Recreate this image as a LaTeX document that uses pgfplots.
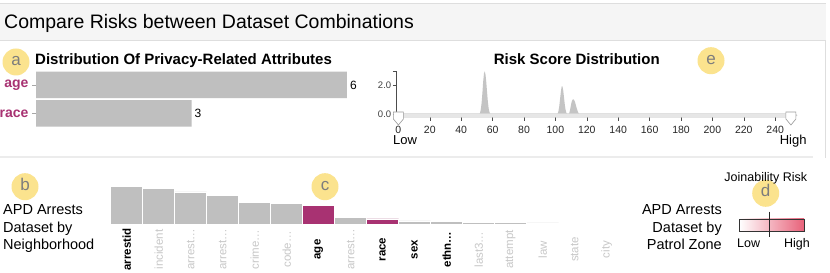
\documentclass[border=0pt]{standalone}
\usepackage{pgfplots}
\pgfplotsset{compat=1.18}
\usepackage{fontspec}
\setmainfont{Liberation Sans}
\definecolor{barg}{RGB}{191,191,191}
\definecolor{areag}{RGB}{196,196,196}
\definecolor{mag}{RGB}{168,50,114}
\definecolor{circ}{RGB}{251,227,142}
\definecolor{circt}{RGB}{125,125,125}
\definecolor{lblg}{RGB}{200,200,200}
\definecolor{pinkc}{RGB}{232,98,122}
\definecolor{hdr}{RGB}{245,245,245}
\definecolor{hdrline}{RGB}{222,222,222}
\definecolor{sepc}{RGB}{236,236,236}
\definecolor{trackc}{RGB}{230,230,230}
\definecolor{trackb}{RGB}{200,200,200}
\newcommand{\fs}[1]{\fontsize{#1}{#1}\selectfont}
\pgfplotsset{/pgf/number format/assume math mode=true}
\begin{document}
\begin{tikzpicture}[x=1pt,y=1pt]
\useasboundingbox (0,0) rectangle (830,273);
\fill[white] (0,0) rectangle (830,273);
\coordinate (pa) at (36,145.25);
\coordinate (pr) at (395.9,158.7);
\coordinate (pc) at (110.7,49);
% header
\fill[hdr] (0,232.3) rectangle (826,269.7);
\draw[line width=0.8pt, hdrline] (0,269.7) -- (826,269.7);
\draw[line width=1pt, hdrline] (0,232.3) -- (826,232.3);
\node[anchor=base west, inner sep=0] at (4,244.5) {\fs{19.5}Compare Risks between Dataset Combinations};
% separators
\draw[line width=2pt, sepc] (0,115.7) -- (813,115.7);
\draw[line width=0.8pt, hdrline] (825.7,232.3) -- (825.7,114.7);
% circles
\foreach \cx/\cy/\t in {16/211/a, 711/212.3/e, 25/86.3/b, 325/86.3/c, 765.7/79.7/d}{
  \fill[circ] (\cx,\cy) circle (13.5);
  \node[text=circt, inner sep=0] at (\cx,\cy) {\fs{17}\strut\t};
}
% titles
\node[anchor=base west, inner sep=0] at (35,208) {\fs{15}\bfseries Distribution Of Privacy-Related Attributes};
\node[anchor=base, inner sep=0] at (576.8,208) {\fs{15}\bfseries Risk Score Distribution};

% ---- chart a
\begin{axis}[at={(pa)}, anchor=south west, scale only axis,
  width=311pt, height=57pt, xbar, bar width=26.5pt,
  xmin=0, xmax=6, ymin=-0.5, ymax=1.5,
  axis x line=none, axis y line*=left, y axis line style={draw=none},
  ytick={0,1}, yticklabels={race,age},
  yticklabel style={font=\fs{14}\bfseries, text=mag},
  major tick length=4pt, tick align=outside,
  ytick style={draw=gray!70, line width=0.6pt},
  nodes near coords, nodes near coords style={font=\fs{12}, text=black, inner sep=3pt}]
\addplot[fill=barg, draw=none] coordinates {(6,1) (3,0)};
\end{axis}

% ---- risk score distribution
\begin{axis}[at={(pr)}, anchor=south west, scale only axis,
  width=395pt, height=42.9pt, xmin=-1.6, xmax=250, ymin=0, ymax=3,
  axis x line*=bottom, x axis line style={draw=none},
  axis y line*=left, y axis line style={draw=gray!60!black, line width=0.6pt},
  xtick={0,20,...,240}, ytick={0,2}, yticklabels={0.0,2.0},
  extra y ticks={3}, extra y tick labels={},
  tick align=outside, major tick length=3pt,
  xtick style={draw=gray!60!black, line width=0.5pt},
  ytick style={draw=gray!60!black, line width=0.5pt},
  x tick style={/pgfplots/major tick length=6.5pt},
  xticklabel style={font=\fs{10.5}, text=black!85, inner sep=1.5pt, yshift=-7pt},
  yticklabel style={font=\fs{9.5}, text=black!75, inner sep=1.5pt},
  clip=false]
\addplot[fill=areag, draw=none] coordinates {
(0,0) (51.5,0) (52,0.1) (52.5,0.35) (53,0.8) (53.5,1.5) (54,2.3) (54.5,2.85) (55,3.0)
(55.5,2.75) (56,2.2) (56.5,1.5) (57,0.85) (57.5,0.4) (58,0.15) (58.5,0.03) (59,0)
(101,0) (101.5,0.05) (102,0.25) (102.5,0.6) (103,1.1) (103.5,1.6) (104,1.95) (104.5,1.95)
(105,1.65) (105.5,1.15) (106,0.65) (106.5,0.3) (107,0.1) (107.5,0.02) (108,0)
(108.5,0) (109,0.15) (109.5,0.4) (110,0.7) (110.5,0.92) (111,1.03) (111.5,1.05) (112,0.98)
(112.5,0.85) (113,0.65) (113.5,0.45) (114,0.27) (114.5,0.13) (115,0.05) (115.5,0) (250,0)} \closedcycle;
\fill[trackc, draw=trackb, line width=0.4pt, rounded corners=1pt] ([yshift=1pt]axis cs:-0.5,0) rectangle ([yshift=-3pt]axis cs:252,0);
\fill[trackc, draw=trackb, line width=0.4pt] ([yshift=1.5pt]axis cs:252,0) -- ([xshift=3pt, yshift=-1pt]axis cs:252,0) -- ([yshift=-3.5pt]axis cs:252,0) -- cycle;
\filldraw[fill=white, draw=gray!80, line width=0.6pt]
   ([xshift=-5pt, yshift=2.3pt]axis cs:0,0) -- ([xshift=5pt, yshift=2.3pt]axis cs:0,0)
   -- ([xshift=5pt, yshift=-4.7pt]axis cs:0,0) -- ([yshift=-10.7pt]axis cs:0,0)
   -- ([xshift=-5pt, yshift=-4.7pt]axis cs:0,0) -- cycle;
\filldraw[fill=white, draw=gray!80, line width=0.6pt]
   ([xshift=-5pt, yshift=2.3pt]axis cs:250,0) -- ([xshift=5pt, yshift=2.3pt]axis cs:250,0)
   -- ([xshift=5pt, yshift=-4.7pt]axis cs:250,0) -- ([yshift=-10.7pt]axis cs:250,0)
   -- ([xshift=-5pt, yshift=-4.7pt]axis cs:250,0) -- cycle;
\end{axis}
\node[anchor=base west, inner sep=0] at (393,128) {\fs{13}Low};
\node[anchor=base east, inner sep=0] at (806.7,128) {\fs{13}High};

% ---- left / right dataset text
\node[anchor=base west, inner sep=0] at (3,58) {\fs{14.5}APD Arrests};
\node[anchor=base west, inner sep=0] at (3,40.5) {\fs{14.5}Dataset by};
\node[anchor=base west, inner sep=0] at (3,23) {\fs{14.5}Neighborhood};
\node[anchor=base east, inner sep=0] at (722,58) {\fs{14.5}APD Arrests};
\node[anchor=base east, inner sep=0] at (722,40.5) {\fs{14.5}Dataset by};
\node[anchor=base east, inner sep=0] at (722,23) {\fs{14.5}Patrol Zone};

% ---- chart c
\begin{axis}[at={(pc)}, anchor=south west, scale only axis,
  width=512pt, height=40pt, xmin=-0.5, xmax=15.5, ymin=0, ymax=40,
  axis y line=none, axis x line*=bottom,
  x axis line style={draw=gray!55!black, line width=1.3pt},
  xtick={0,...,15}, major tick length=0pt, xtick style={draw=none},
  xticklabels={\textbf{arrestid}, \textcolor{lblg}{incident}, \textcolor{lblg}{arrest…}, \textcolor{lblg}{arrest…},
    \textcolor{lblg}{crime…}, \textcolor{lblg}{code…}, \textbf{age}, \textcolor{lblg}{arrest…},
    \textbf{race}, \textbf{sex}, \textbf{ethn…}, \textcolor{lblg}{last3…},
    \textcolor{lblg}{attempt}, \textcolor{lblg}{law}, \textcolor{lblg}{state}, \textcolor{lblg}{city}},
  xticklabel style={rotate=90, anchor=center, font=\fs{11.5}},
  xticklabel shift=25.5pt, clip=false]
\addplot[ybar, bar width=32pt, bar shift=0pt, fill=barg, draw=white, line width=0.6pt] coordinates {
(0,37.3) (1,35.7) (2,32) (3,28.7) (4,21.3) (5,20.7) (6,18.5) (7,6.3)
(8,5) (9,3) (10,2.3) (11,1.7) (12,1.3) (13,1) (14,0.7) (15,0.5)};
\addplot[ybar, bar width=32pt, bar shift=0pt, fill=mag, draw=white, line width=0.6pt] coordinates {
(6,18.5) (8,5)};
\end{axis}

% ---- joinability legend
\node[anchor=base, inner sep=0] at (765.8,91) {\fs{12.5}Joinability Risk};
\shade[left color=white, right color=pinkc] (739.3,41.3) rectangle (804,54);
\draw[gray!40!black, line width=0.7pt] (739.3,41.3) rectangle (804,54);
\draw[gray!30!black, line width=1.2pt] (769.3,61.3) -- (769.3,36.3);
\node[anchor=base west, inner sep=0] at (737,25.7) {\fs{12.5}Low};
\node[anchor=base east, inner sep=0] at (810,25.7) {\fs{12.5}High};
\end{tikzpicture}
\end{document}
